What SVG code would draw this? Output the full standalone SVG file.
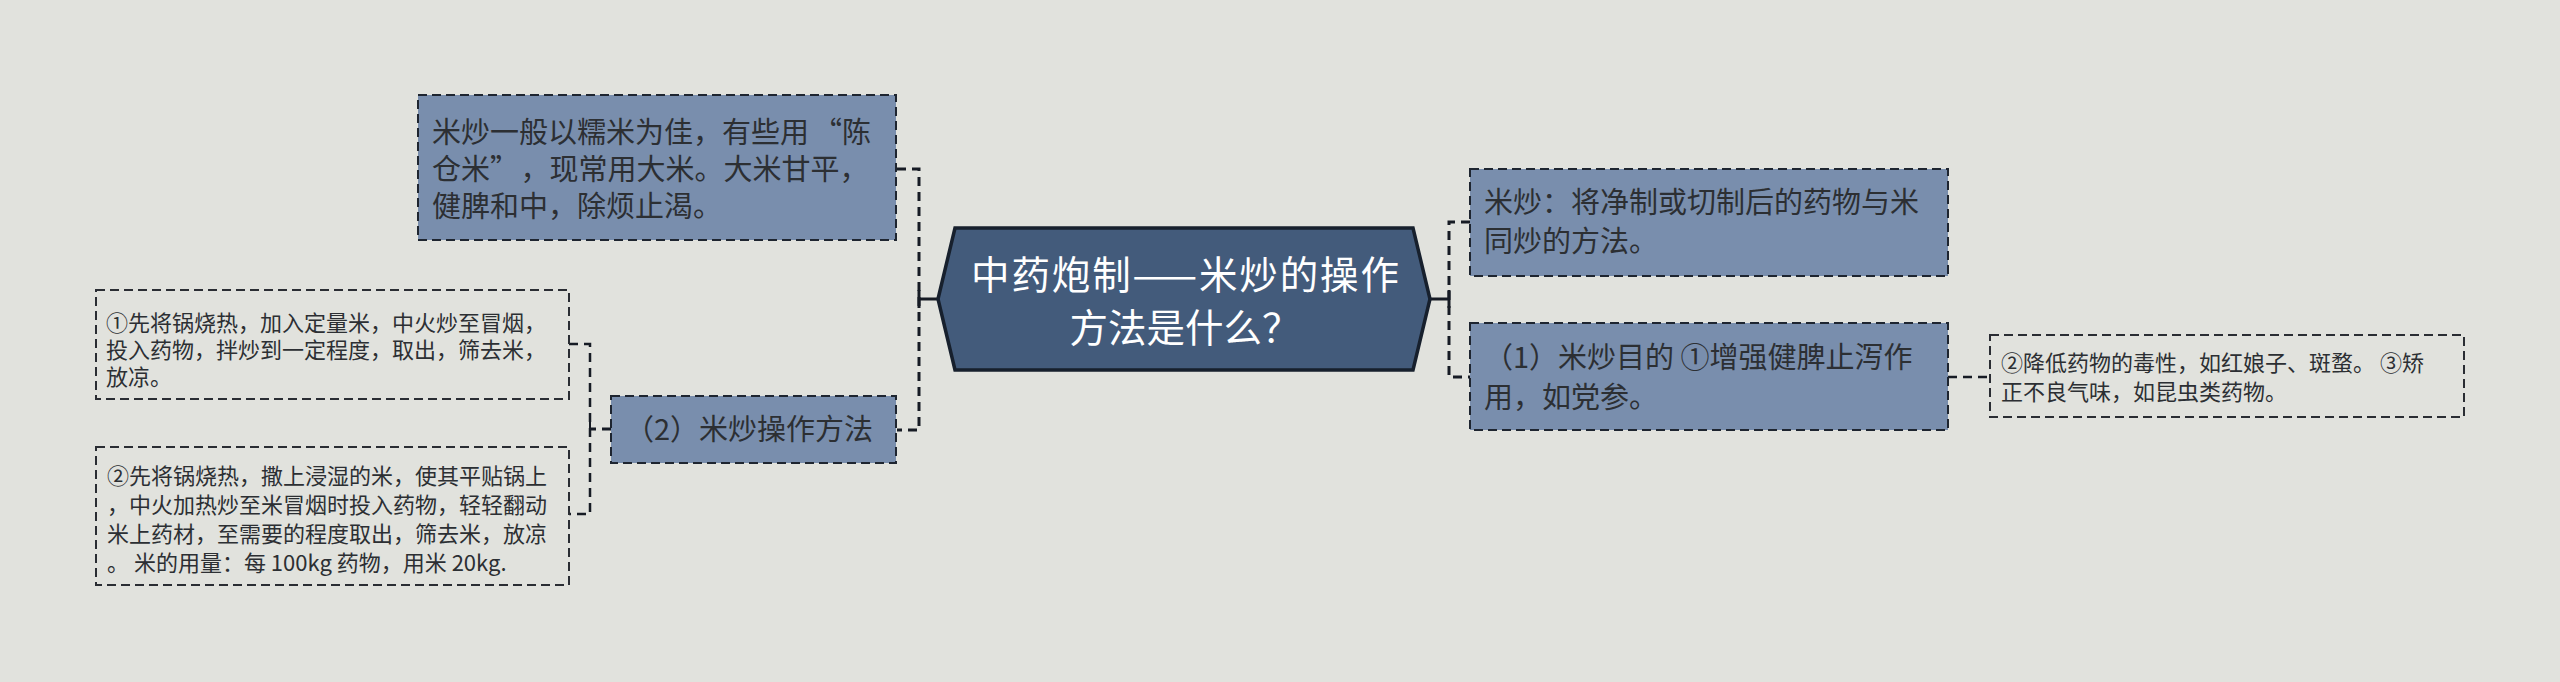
<svg xmlns="http://www.w3.org/2000/svg" width="2560" height="682" viewBox="0 0 2560 682">
<defs>
<style>
.bg{fill:#e1e2dd}
.main{fill:#435b7b;stroke:#17202d;stroke-width:3.5;stroke-linejoin:miter}
.box{fill:#798ead;stroke:#1e2530;stroke-width:2;stroke-dasharray:9 5}
.leaf{fill:none;stroke:#2a2d33;stroke-width:2;stroke-dasharray:9 5}
.t-main{font-family:"Noto Sans CJK SC","Noto Sans",sans-serif;font-size:38.5px;fill:#ffffff;text-anchor:middle}
.t-box{font-family:"Noto Sans CJK SC","Noto Sans",sans-serif;font-size:29px;fill:#2c2f33}
.t-leaf{font-family:"Noto Sans CJK SC","Noto Sans",sans-serif;font-size:22px;fill:#2c2f33}
.c-dash{fill:none;stroke:#161b24;stroke-width:3;stroke-dasharray:9 6}
.c-solid{fill:none;stroke:#161b24;stroke-width:3}
</style>
</defs>
<rect class="bg" x="0" y="0" width="2560" height="682"/>

<g id="connectors">
  <!-- center to left -->
  <path class="c-solid" d="M938 299 H919 M919 290 V308"/>
  <path class="c-dash" d="M897 169 H919 V430 H897"/>
  <!-- center to right -->
  <path class="c-solid" d="M1430 299 H1449 M1449 290 V308"/>
  <path class="c-dash" d="M1470 222 H1449 V377 H1470"/>
  <!-- left middle to small boxes -->
  <path class="c-dash" d="M611 429 H590"/>
  <path class="c-dash" d="M590 422 V436" style="stroke-dasharray:none;stroke-width:2"/>
  <path class="c-dash" d="M569 344 H590 V514 H569" style="stroke-width:2.5"/>
  <!-- right bottom to far right -->
  <path class="c-dash" d="M1948 377 H1990" style="stroke-width:2.5"/>
</g>

<g id="node-center">
  <polygon class="main" points="938,299 955,228 1413,228 1430,299 1413,370 955,370"/>
  <text class="t-main" x="1185" y="289" textLength="428" lengthAdjust="spacing">中药炮制——米炒的操作</text>
  <text class="t-main" x="1185" y="342">方法是什么？</text>
</g>

<g id="node-top-left">
  <rect class="box" x="418" y="95" width="478" height="145"/>
  <text class="t-box" x="432" y="143">米炒一般以糯米为佳，有些用<tspan dx="4">“陈</tspan></text>
  <text class="t-box" x="432" y="180">仓米”<tspan dx="16">，现常用大米。大米甘平，</tspan></text>
  <text class="t-box" x="432" y="217">健脾和中，除烦止渴。</text>
</g>

<g id="node-left-method">
  <rect class="box" x="611" y="396" width="285" height="67"/>
  <text class="t-box" x="625" y="440">（2）米炒操作方法</text>
</g>

<g id="node-left-step1">
  <rect class="leaf" x="96" y="290" width="473" height="109"/>
  <text class="t-leaf" x="106" y="331">①先将锅烧热，加入定量米，中火炒至冒烟，</text>
  <text class="t-leaf" x="106" y="358">投入药物，拌炒到一定程度，取出，筛去米，</text>
  <text class="t-leaf" x="106" y="385">放凉。</text>
</g>

<g id="node-left-step2">
  <rect class="leaf" x="96" y="447" width="473" height="138"/>
  <text class="t-leaf" x="107" y="484">②先将锅烧热，撒上浸湿的米，使其平贴锅上</text>
  <text class="t-leaf" x="107" y="513">，中火加热炒至米冒烟时投入药物，轻轻翻动</text>
  <text class="t-leaf" x="107" y="542">米上药材，至需要的程度取出，筛去米，放凉</text>
  <text class="t-leaf" x="107" y="571">。 米的用量：每 100kg 药物，用米 20kg.</text>
</g>

<g id="node-right-def">
  <rect class="box" x="1470" y="169" width="478" height="107"/>
  <text class="t-box" x="1484" y="213">米炒：将净制或切制后的药物与米</text>
  <text class="t-box" x="1484" y="252">同炒的方法。</text>
</g>

<g id="node-right-purpose">
  <rect class="box" x="1470" y="323" width="478" height="107"/>
  <text class="t-box" x="1484" y="368">（1）米炒目的 ①增强健脾止泻作</text>
  <text class="t-box" x="1484" y="408">用，如党参。</text>
</g>

<g id="node-far-right">
  <rect class="leaf" x="1990" y="335" width="474" height="82"/>
  <text class="t-leaf" x="2001" y="371">②降低药物的毒性，如红娘子、斑蝥。 ③矫</text>
  <text class="t-leaf" x="2001" y="400">正不良气味，如昆虫类药物。</text>
</g>
</svg>
